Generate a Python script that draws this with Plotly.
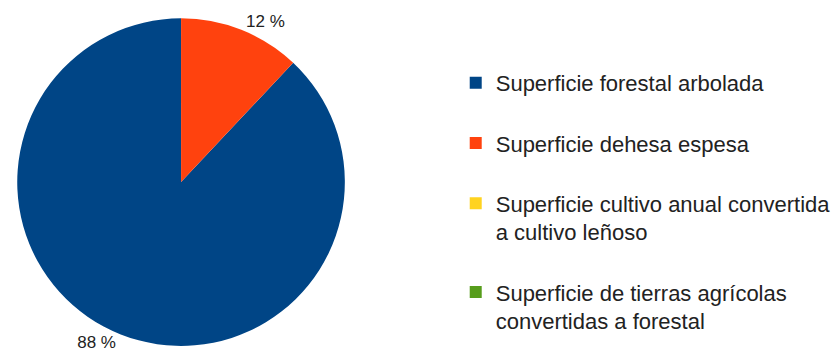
import plotly.graph_objects as go

categories = [
    "Superficie forestal arbolada",
    "Superficie dehesa espesa",
    "Superficie cultivo anual convertida<br>a cultivo leñoso",
    "Superficie de tierras agrícolas<br>convertidas a forestal",
]
values = [88, 12, 0, 0]
colors = ["#004586", "#ff420e", "#ffd320", "#579d1c"]

# legend labels padded with a blank line to reproduce the generous spacing
legend_labels = [c + "<br>\u00a0" for c in categories]
slice_text = [f"{v} %" if v else "" for v in values]

# start the first slice so that the second one begins at 12 o'clock
start_rotation = 360.0 * values[1] / sum(values)

fig = go.Figure(
    go.Pie(
        labels=legend_labels,
        values=values,
        text=slice_text,
        textinfo="text",
        textposition="outside",
        sort=False,
        direction="clockwise",
        rotation=start_rotation,
        marker=dict(colors=colors, line=dict(width=0)),
        textfont=dict(family="Liberation Sans", size=17, color="#222222"),
        domain=dict(x=[0.011, 0.401], y=[0.066, 0.972]),
        hoverinfo="skip",
    )
)

fig.update_layout(
    width=840,
    height=362,
    margin=dict(l=0, r=0, t=0, b=0),
    paper_bgcolor="white",
    plot_bgcolor="white",
    showlegend=True,
    legend=dict(
        x=0.533,
        xanchor="left",
        y=0.83,
        yanchor="top",
        valign="top",
        itemwidth=30,
        font=dict(family="Liberation Sans", size=22, color="#222222"),
        bgcolor="rgba(0,0,0,0)",
    ),
)

fig.write_html("out.html")
